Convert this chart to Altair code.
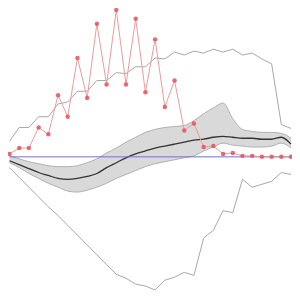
import altair as alt
import pandas as pd

step = list(range(30))
red_vals = [3, 9, 9, 30, 23, 63, 41, 101, 60, 136, 74, 150, 74, 141, 66, 120, 51, 78, 27, 34,
            10, 11, 3, 4, 1, 1, 0, 0, 0, 0]
upper_bound = [16, 30, 30, 41, 41, 54, 56, 67, 67, 78, 78, 86, 85, 92, 92, 101, 100, 107, 104, 108,
               106, 110, 107, 110, 104, 106, 100, 95, 33, 29]
lower_bound = [-11, -21, -31, -41, -51, -60, -70, -80, -90, -100, -110, -120, -124, -130, -132, -136,
               -126, -123, -118, -121, -83, -75, -55, -57, -23, -31, -28, -25, -16, -18]
mean_vals = [-4, -8, -12, -16, -19, -22, -23, -22, -20, -17, -11, -6, -1, 3, 6, 9, 11, 13, 15, 17,
             18, 20, 21, 20, 19, 19, 18, 18, 20, 13]
band_hi = [1, -2, -5, -7, -9, -10, -10, -9, -6, -2, 4, 9, 15, 20, 25, 28, 30, 31, 32, 37,
           44, 50, 55, 39, 28, 26, 25, 25, 24, 19]
band_lo = [-6, -11, -17, -22, -27, -31, -35, -36, -34, -31, -27, -22, -18, -14, -10, -7, -5, -3, -1, 1,
           6, 10, 14, 12, 11, 10, 10, 11, 14, 9]
baseline = [0, 0]
baseline_x = [0, 29]

df = pd.DataFrame({
    "i": step, "red": red_vals, "up": upper_bound, "lo": lower_bound,
    "mean": mean_vals, "bhi": band_hi, "blo": band_lo,
})
dfb = pd.DataFrame({"i": baseline_x, "v": baseline})

xs = alt.Scale(domain=[-0.1545, 29.10], nice=False, zero=False)
ys = alt.Scale(domain=[-137.03, 152.04], nice=False, zero=False)
X = alt.X("i:Q", scale=xs, axis=None)

base = alt.Chart(df)

band = base.mark_area(color="#d9d9d9", opacity=1, interpolate="monotone").encode(
    x=X, y=alt.Y("bhi:Q", scale=ys, axis=None), y2="blo:Q")
band_top = base.mark_line(color="#b0b0b0", strokeWidth=1, interpolate="monotone").encode(
    x=X, y=alt.Y("bhi:Q", scale=ys, axis=None))
band_bot = base.mark_line(color="#b0b0b0", strokeWidth=1, interpolate="monotone").encode(
    x=X, y=alt.Y("blo:Q", scale=ys, axis=None))
mean_line = base.mark_line(color="#333333", strokeWidth=1.3, interpolate="monotone").encode(
    x=X, y=alt.Y("mean:Q", scale=ys, axis=None))
up_line = base.mark_line(color="#a8a8a8", strokeWidth=1).encode(
    x=X, y=alt.Y("up:Q", scale=ys, axis=None))
lo_line = base.mark_line(color="#a8a8a8", strokeWidth=1).encode(
    x=X, y=alt.Y("lo:Q", scale=ys, axis=None))
blue = alt.Chart(dfb).mark_line(color="#6f6fe0", strokeWidth=1).encode(
    x=alt.X("i:Q", scale=xs, axis=None), y=alt.Y("v:Q", scale=ys, axis=None))
red_line = base.mark_line(color="#f29a9a", strokeWidth=1).encode(
    x=X, y=alt.Y("red:Q", scale=ys, axis=None))
red_pts = base.mark_circle(color="#e8505a", opacity=0.85, size=20).encode(
    x=X, y=alt.Y("red:Q", scale=ys, axis=None))

chart = alt.layer(band, band_top, band_bot, mean_line, up_line, lo_line, blue, red_line, red_pts).properties(
    width=284, height=283, autosize=alt.AutoSizeParams(type="none"), padding=0
).configure_view(stroke=None)

chart.save("out.html", embed_options={"renderer": "svg", "actions": False})
